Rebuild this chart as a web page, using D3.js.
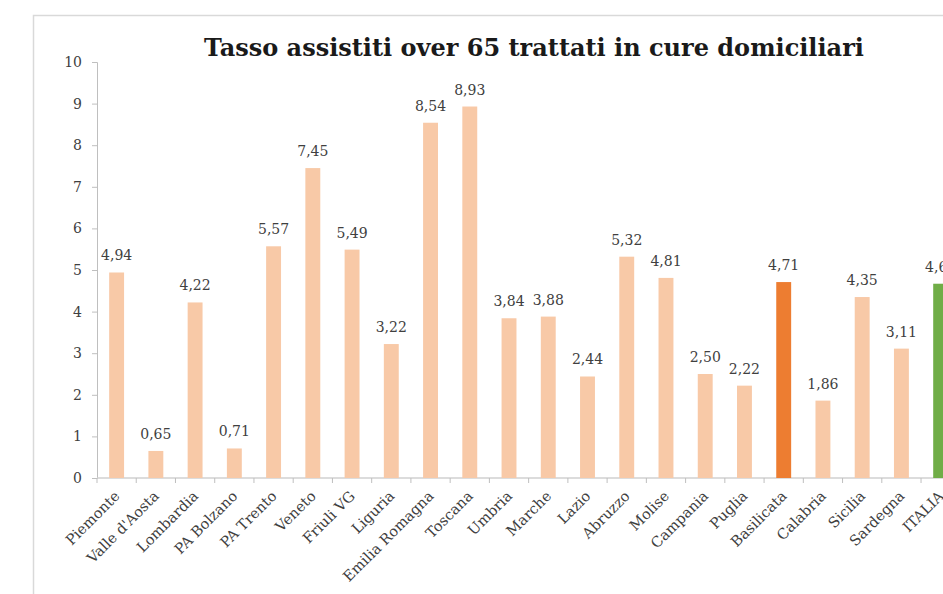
<!DOCTYPE html>
<html><head><meta charset="utf-8">
<script src="https://cdn.jsdelivr.net/npm/d3@7"></script>
<style>body{margin:0;background:#fff;} svg{display:block;}</style>
</head><body>
<svg id="c" width="943" height="594"></svg>
<script>
const categories = ["Piemonte","Valle d'Aosta","Lombardia","PA Bolzano","PA Trento","Veneto","Friuli VG","Liguria","Emilia Romagna","Toscana","Umbria","Marche","Lazio","Abruzzo","Molise","Campania","Puglia","Basilicata","Calabria","Sicilia","Sardegna","ITALIA"];
const values = [4.94,0.65,4.22,0.71,5.57,7.45,5.49,3.22,8.54,8.93,3.84,3.88,2.44,5.32,4.81,2.50,2.22,4.71,1.86,4.35,3.11,4.67];
const yTicks = [0,1,2,3,4,5,6,7,8,9,10];
const title = "Tasso assistiti over 65 trattati in cure domiciliari";
const highlight = {"Basilicata":"#ED7D31","ITALIA":"#70AD47"};
const baseColor = "#F8C9A7";

const svg = d3.select("#c");
svg.append("rect").attr("x",33.5).attr("y",15.5).attr("width",1000).attr("height",1000)
  .attr("fill","#fff").attr("stroke","#d9d9d9").attr("stroke-width",1.5);

const x = d3.scaleBand().domain(categories).range([97, 97+39.24*categories.length]).paddingInner(0.62).paddingOuter(0.31);
const y = d3.scaleLinear().domain([0,10]).range([478,62]);

// y axis
const ya = svg.append("g").attr("transform","translate(97,0)")
  .call(d3.axisLeft(y).tickValues(yTicks).tickSize(5).tickPadding(10));
ya.select(".domain").attr("stroke","#bfbfbf");
ya.selectAll(".tick line").attr("stroke","#bfbfbf");
ya.selectAll(".tick text").attr("font-family","DejaVu Serif, serif").attr("font-size",14).attr("fill","#404040");

// x axis
const xa = svg.append("g").attr("transform","translate(0,478)");
xa.append("line").attr("x1",97).attr("x2",943).attr("stroke","#d0d0d0").attr("stroke-width",1.5);
xa.selectAll("line.t").data(categories).join("line").attr("class","t")
  .attr("x1",d=>x(d)+x.bandwidth()/2 - x.step()/2).attr("x2",d=>x(d)+x.bandwidth()/2 - x.step()/2)
  .attr("y1",0).attr("y2",5).attr("stroke","#bfbfbf");

svg.append("g").selectAll("rect").data(categories).join("rect")
  .attr("x",d=>x(d)).attr("width",x.bandwidth())
  .attr("y",(d,i)=>y(values[i])).attr("height",(d,i)=>y(0)-y(values[i]))
  .attr("fill",d=>highlight[d]||baseColor);

const fmt = v => v.toFixed(2).replace(".",",");
svg.append("g").selectAll("text").data(categories).join("text")
  .attr("x",d=>x(d)+x.bandwidth()/2).attr("y",(d,i)=>y(values[i])-12)
  .attr("text-anchor","middle").attr("font-family","DejaVu Serif, serif").attr("font-size",14)
  .attr("fill","#404040").text((d,i)=>fmt(values[i]));

svg.append("g").selectAll("text").data(categories).join("text")
  .attr("transform",d=>`translate(${x(d)+x.bandwidth()/2+4},${497}) rotate(-45)`)
  .attr("text-anchor","end").attr("font-family","DejaVu Serif, serif").attr("font-size",14.5)
  .attr("fill","#404040").text(d=>d);

svg.append("text").attr("x",534).attr("y",56).attr("text-anchor","middle")
  .attr("font-family","DejaVu Serif, serif").attr("font-weight","bold").attr("font-size",24)
  .attr("fill","#1a1a1a").text(title);
</script>
</body></html>
